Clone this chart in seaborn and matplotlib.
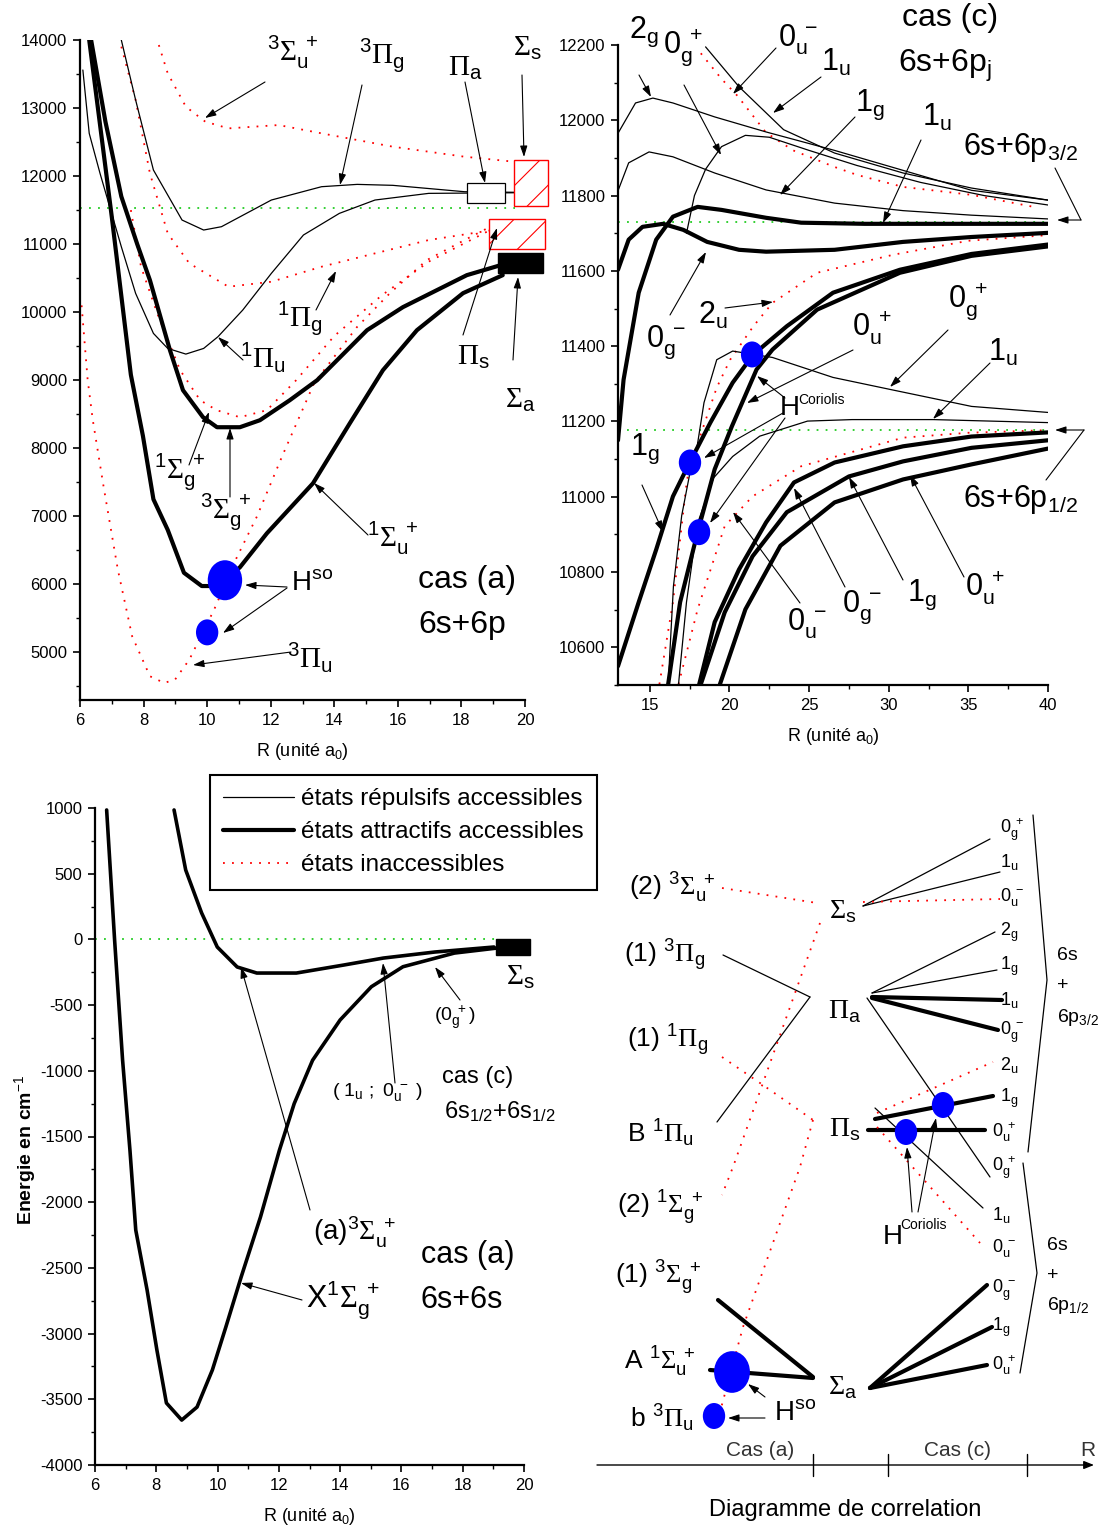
import matplotlib
matplotlib.use("Agg")
import matplotlib.pyplot as plt
import seaborn as sns
from matplotlib.lines import Line2D
from matplotlib.patches import Rectangle
from matplotlib.path import Path
from matplotlib.ticker import MultipleLocator
from matplotlib.transforms import Affine2D

# ---------------- data (R in a0, E in cm-1) ----------------
# cas (a) 6s+6p
R_A1Su = [6.29, 7.0, 7.6, 7.98, 8.31, 8.76, 9.27, 9.83, 10.3, 10.6, 11.03, 11.88, 13.33, 14.49, 15.53, 16.6, 18.05, 19.3]
E_A1Su = [14000, 11400, 9080, 8180, 7250, 6800, 6170, 5975, 5975, 6080, 6250, 6750, 7485, 8368, 9147, 9735, 10279, 10544]
R_3Sg = [6.35, 6.8, 7.3, 7.8, 8.2, 8.83, 9.24, 9.87, 10.31, 11.03, 11.66, 12.6, 13.46, 15.03, 16.16, 18.17, 19.3]
E_3Sg = [14000, 12800, 11700, 11000, 10470, 9441, 8853, 8456, 8309, 8309, 8412, 8706, 9000, 9735, 10074, 10544, 10700]
R_1Pu = [6.09, 6.29, 6.63, 7.3, 7.75, 8.31, 8.76, 9.33, 9.89, 10.34, 11.12, 12.02, 13.03, 14.16, 15.28, 16.97, 20.0]
E_1Pu = [13559, 12628, 12040, 10962, 10276, 9688, 9467, 9384, 9467, 9639, 10031, 10570, 11134, 11452, 11648, 11746, 11756]
R_3Pg = [7.3, 7.75, 8.31, 9.21, 9.89, 10.45, 12.02, 13.6, 14.72, 15.84, 18.1, 20.0]
E_3Pg = [14000, 13118, 12089, 11354, 11207, 11256, 11648, 11844, 11878, 11864, 11770, 11760]
R_3Su = [8.48, 8.76, 9.33, 9.94, 10.67, 12.25, 13.6, 15.84, 18.09, 19.66]
E_3Su = [13926, 13510, 13020, 12800, 12701, 12750, 12628, 12432, 12285, 12211]
R_1Pg = [7.3, 7.75, 8.2, 8.76, 9.44, 10.67, 12.02, 13.6, 15.28, 16.97, 18.99]
E_1Pg = [13902, 13118, 12040, 11158, 10717, 10374, 10447, 10668, 10864, 11060, 11207]
R_1Sg = [7.6, 7.92, 8.43, 9.15, 9.78, 10.3, 11.03, 11.88, 12.8, 14.0, 15.5, 17.0, 19.0]
E_1Sg = [11500, 10668, 9982, 9147, 8706, 8559, 8456, 8559, 9000, 9650, 10250, 10750, 11230]
R_3Pu = [6.05, 6.24, 6.4, 6.74, 7.19, 7.64, 8.2, 8.65, 8.99, 9.44, 10.22, 10.9, 11.57, 12.36, 13.37, 14.71, 15.75, 16.91, 18.1, 19.3]
E_3Pu = [10100, 9010, 8422, 7442, 6217, 5237, 4649, 4551, 4600, 4894, 5629, 6364, 7001, 7883, 8961, 9779, 10279, 10765, 11060, 11350]
E_lim_a = 11535
R_hso_a = [10.56, 10.0]
E_hso_a = [6060, 5294]
S_hso_a = [830, 350]

# cas (c) 6s+6pj
R_t2g = [13.02, 14.1, 15.19, 16.45, 19.07, 22.3, 26.6, 30.9, 35.2, 40]
E_t2g = [11967, 12046, 12059, 12046, 12009, 11969, 11920, 11867, 11814, 11788]
R_t1g = [13.02, 13.67, 14.95, 16.45, 19.07, 22.3, 26.6, 30.9, 35.2, 40]
E_t1g = [11815, 11887, 11916, 11903, 11860, 11815, 11780, 11760, 11748, 11738]
R_t1u = [18.5, 20.6, 23.4, 26.6, 30.9, 35.2, 40]
E_t1u = [12195, 12089, 11975, 11913, 11860, 11820, 11788]
R_t0gp = [17.3, 17.8, 18.5, 19.5, 21.0, 22.5, 25, 28, 32, 36, 40]
E_t0gp = [11700, 11800, 11870, 11930, 11960, 11955, 11920, 11880, 11835, 11800, 11775]
R_t1u_m = [16.15, 16.48, 17.0, 17.5, 17.94, 18.4, 19.2, 20.2, 22.7, 26.5, 30.1, 35.2, 40]
E_t1u_m = [10502, 10762, 10950, 11060, 11126, 11250, 11364, 11387, 11370, 11317, 11285, 11240, 11224]
R_t1u_l = [16.8, 17.3, 18.0, 19.0, 20.2, 21.9, 24.9, 27.7, 32.8, 40]
E_t1u_l = [10502, 10720, 10930, 11050, 11107, 11161, 11201, 11205, 11205, 11197]
R_k1u = [13.0, 13.35, 14.3, 15.4, 16.45, 18.0, 19.5, 22.3, 24.5, 28.5, 40]
E_k1u = [11150, 11311, 11542, 11683, 11744, 11770, 11762, 11741, 11728, 11725, 11725]
R_k0gm = [13.0, 13.67, 14.54, 15.83, 17.1, 18.6, 20.6, 22.3, 26.6, 30.9, 35.2, 40]
E_k0gm = [11603, 11683, 11717, 11725, 11709, 11677, 11656, 11651, 11656, 11677, 11690, 11701]
R_k1g = [13.0, 14.3, 15.4, 16.45, 17.5, 18.8, 20.2, 21.5, 23.6, 26.5, 30.7, 35.2, 40]
E_k1g = [10550, 10720, 10860, 11001, 11091, 11197, 11303, 11378, 11453, 11542, 11603, 11645, 11670]
R_k0up = [16.15, 16.9, 18.0, 19.07, 20.15, 21.7, 22.7, 25.5, 30.7, 35.2, 40]
E_k0up = [10502, 10720, 10906, 11073, 11187, 11338, 11391, 11497, 11595, 11640, 11665]
R_kb1 = [18.1, 19.07, 20.6, 22.3, 24.05, 26.6, 30.9, 35.2, 40]
E_kb1 = [10502, 10667, 10807, 10932, 11038, 11091, 11134, 11160, 11171]
R_kb2 = [18.2, 19.7, 21.45, 23.6, 27.5, 30.9, 35.2, 40]
E_kb2 = [10502, 10693, 10842, 10959, 11054, 11094, 11130, 11150]
R_kb3 = [19.4, 21.0, 23.2, 26.6, 30.9, 35.2, 40]
E_kb3 = [10502, 10701, 10870, 10985, 11046, 11086, 11128]
R_r0um = [18.2, 19.5, 20.5, 22.3, 24, 26.6, 28, 30.9, 35.2, 39.1]
E_r0um = [12178, 12110, 12065, 11967, 11920, 11876, 11855, 11823, 11802, 11770]
R_r2u = [15.6, 16.45, 17.33, 18.15, 19.2, 20.04, 21.5, 22.7, 25.5, 30.3, 35, 40]
E_r2u = [10502, 10720, 11046, 11160, 11290, 11364, 11453, 11515, 11595, 11643, 11680, 11695]
R_r0um_l = [16.8, 18.0, 19.7, 21.45, 24.5, 30.9, 35, 40]
E_r0um_l = [10502, 10701, 10922, 11001, 11081, 11157, 11170, 11177]
E_lim_c = [11730, 11177]
R_cor = [21.42, 17.52, 18.09]
E_cor = [11378, 11091, 10906]

# 6s+6s
R_X = [6.38, 6.64, 6.9, 7.14, 7.33, 7.7, 8.02, 8.33, 8.83, 9.33, 9.83, 10.27, 10.77, 11.4, 12.02, 12.5, 13.1, 14.0, 15.02, 16.05, 17.73, 19.15]
E_X = [985, -5, -918, -1603, -2212, -2668, -3125, -3528, -3658, -3559, -3277, -2950, -2569, -2113, -1603, -1250, -920, -613, -360, -208, -104, -65]
R_a3Su = [8.58, 8.96, 9.48, 9.99, 10.64, 11.28, 12.57, 14.12, 15.41, 17.09, 19.02]
E_a3Su = [985, 528, 201, -58, -210, -256, -256, -195, -142, -96, -58]

legend_labels = ["états répulsifs accessibles", "états attractifs accessibles", "états inaccessibles"]

# correlation diagram labels
corr_left = [r"(2) $^3\mathsf{\Sigma}_u^{\ +}$", r"(1) $^3\mathsf{\Pi}_g$", r"(1) $^1\mathsf{\Pi}_g$",
             r"B $^1\mathsf{\Pi}_u$", r"(2) $^1\mathsf{\Sigma}_g^{\ +}$", r"(1) $^3\mathsf{\Sigma}_g^{\ +}$",
             r"A $^1\mathsf{\Sigma}_u^{\ +}$", r"b $^3\mathsf{\Pi}_u$"]
corr_mid = [r"$\mathsf{\Sigma}_s$", r"$\mathsf{\Pi}_a$", r"$\mathsf{\Pi}_s$", r"$\mathsf{\Sigma}_a$"]
corr_right_32 = [r"$0_g^{\ +}$", r"$1_u$", r"$0_u^{\ -}$", r"$2_g$", r"$1_g$", r"$1_u$", r"$0_g^{\ -}$", r"$2_u$", r"$1_g$"]
corr_right_12 = [r"$0_u^{\ +}$", r"$0_g^{\ +}$", r"$1_u$", r"$0_u^{\ -}$", r"$0_g^{\ -}$", r"$1_g$", r"$0_u^{\ +}$"]

# ---------------- style ----------------
sns.set_theme(style="ticks", rc={"axes.edgecolor": "black", "xtick.color": "black", "ytick.color": "black",
                                 "text.color": "black", "axes.labelcolor": "black", "axes.linewidth": 1.6})
plt.rcParams["font.family"] = ["Liberation Sans", "DejaVu Sans"]
plt.rcParams["mathtext.fontset"] = "custom"
plt.rcParams["mathtext.rm"] = "Liberation Sans"
plt.rcParams["mathtext.it"] = "Liberation Sans"
plt.rcParams["mathtext.bf"] = "Liberation Sans:bold"
plt.rcParams["mathtext.sf"] = "Liberation Serif"
plt.rcParams["axes.unicode_minus"] = False
plt.rcParams["hatch.linewidth"] = 0.8

THIN = dict(color="black", lw=0.9)
THICK = dict(color="black", lw=3.0)
DOT = dict(color="red", lw=1.3, linestyle=(0, (1, 4)))
GREEN = dict(color="#22cc22", lw=1.3, linestyle=(0, (1, 4)))
BLOB = Path.unit_circle().transformed(Affine2D().scale(0.86, 1.0))

W, H = 1099, 1537
fig = plt.figure(figsize=(W / 100, H / 100), dpi=100)


def place(l, t, r, b):
    return fig.add_axes([l / W, 1 - b / H, (r - l) / W, (b - t) / H])


def curve(ax, r, e, style):
    sns.lineplot(x=r, y=e, ax=ax, sort=False, estimator=None, **style)


def blobs(ax, x, y, s):
    sns.scatterplot(x=x, y=y, ax=ax, marker=BLOB, s=s, color="#0000ff", linewidth=0, zorder=6)


def frame(ax, xlim, ylim, xmaj, xmin, ymaj, ymin):
    ax.set_xlim(*xlim)
    ax.set_ylim(*ylim)
    ax.xaxis.set_major_locator(MultipleLocator(xmaj))
    ax.xaxis.set_minor_locator(MultipleLocator(xmin))
    ax.yaxis.set_major_locator(MultipleLocator(ymaj))
    ax.yaxis.set_minor_locator(MultipleLocator(ymin))
    ax.tick_params(which="major", direction="out", length=5, width=1.2, labelsize=12, pad=4)
    ax.tick_params(which="minor", direction="out", length=3, width=1.0)
    sns.despine(ax=ax)
    ax.set_xlabel(r"R (unité a$_0$)", fontsize=13, labelpad=10)
    ax.set_ylabel("")


ax1 = place(80, 40, 525, 700)
ax2 = place(618, 45, 1048, 685)
ax3 = place(95, 808, 524, 1465)

# ---- cas (a) 6s+6p ----
curve(ax1, [6, 19.7], [E_lim_a] * 2, GREEN)
for r, e in [(R_3Su, E_3Su), (R_1Pg, E_1Pg), (R_1Sg, E_1Sg), (R_3Pu, E_3Pu)]:
    curve(ax1, r, e, DOT)
for r, e in [(R_1Pu, E_1Pu), (R_3Pg, E_3Pg)]:
    curve(ax1, r, e, THIN)
for r, e in [(R_A1Su, E_A1Su), (R_3Sg, E_3Sg)]:
    curve(ax1, r, e, THICK)
frame(ax1, (6, 20), (4300, 14000), 2, 1, 1000, 500)
ax1.add_patch(Rectangle((18.17, 11603), 1.2, 294, fc="white", ec="black", lw=0.9, zorder=5, clip_on=False))
ax1.add_patch(Rectangle((19.65, 11559), 1.07, 676, fc="white", ec="red", hatch="/", lw=1.0, zorder=5, clip_on=False))
ax1.add_patch(Rectangle((18.87, 10926), 1.76, 442, fc="white", ec="red", hatch="/", lw=1.0, zorder=5, clip_on=False))
ax1.add_patch(Rectangle((19.15, 10574), 1.41, 294, fc="black", ec="black", zorder=5, clip_on=False))
blobs(ax1, R_hso_a, E_hso_a, S_hso_a)

# ---- cas (c) 6s+6pj ----
for e in E_lim_c:
    curve(ax2, [13, 40], [e, e], GREEN)
for r, e in [(R_r0um, E_r0um), (R_r2u, E_r2u), (R_r0um_l, E_r0um_l)]:
    curve(ax2, r, e, DOT)
for r, e in [(R_t2g, E_t2g), (R_t1g, E_t1g), (R_t1u, E_t1u), (R_t0gp, E_t0gp), (R_t1u_m, E_t1u_m), (R_t1u_l, E_t1u_l)]:
    curve(ax2, r, e, THIN)
for r, e in [(R_k1u, E_k1u), (R_k0gm, E_k0gm), (R_k1g, E_k1g), (R_k0up, E_k0up),
             (R_kb1, E_kb1), (R_kb2, E_kb2), (R_kb3, E_kb3)]:
    curve(ax2, r, e, THICK)
frame(ax2, (13, 40), (10500, 12200), 5, 2.5, 200, 100)
blobs(ax2, R_cor, E_cor, [350] * 3)

# ---- 6s+6s ----
curve(ax3, [6, 19.1], [0, 0], GREEN)
curve(ax3, R_X, E_X, dict(color="black", lw=2.6))
curve(ax3, R_a3Su, E_a3Su, dict(color="black", lw=2.6))
frame(ax3, (6, 20), (-4000, 1000), 2, 1, 500, 250)
ax3.add_patch(Rectangle((19.09, -119), 1.1, 124, fc="black", ec="black", zorder=5, clip_on=False))

fig.legend([Line2D([], [], **THIN), Line2D([], [], **THICK), Line2D([], [], **DOT)], legend_labels,
           loc="upper left", bbox_to_anchor=(210 / W, 1 - 775 / H), fontsize=17.5, frameon=True,
           fancybox=False, edgecolor="black", framealpha=1, handlelength=2.9, handletextpad=0.3,
           borderpad=0.55, labelspacing=0.45, borderaxespad=0).get_frame().set_linewidth(1.5)

# ---------------- overlay in figure pixels: labels, arrows, correlation diagram ----------------
ov = fig.add_axes([0, 0, 1, 1], zorder=10)
ov.set_xlim(0, W)
ov.set_ylim(H, 0)
ov.axis("off")


def txt(x, y, s, size=21, ha="center", **kw):
    ov.text(x, y, s, fontsize=size, ha=ha, va="center", **kw)


def arr(x0, y0, x1, y1):
    ov.annotate("", xy=(x1, y1), xytext=(x0, y0),
                arrowprops=dict(arrowstyle="-|>,head_length=0.55,head_width=0.18", color="black",
                                lw=0.8, shrinkA=0, shrinkB=0))


def seg(pts, style):
    ov.plot([p[0] for p in pts], [p[1] for p in pts], **style)


# panel (a) labels
for x, y, s in [(293, 52, r"$^3\mathsf{\Sigma}_u^{\ +}$"), (382, 55, r"$^3\mathsf{\Pi}_g$"),
                (465, 68, r"$\mathsf{\Pi}_a$"), (527, 48, r"$\mathsf{\Sigma}_s$"),
                (300, 318, r"$^1\mathsf{\Pi}_g$"), (263, 357, r"$^1\mathsf{\Pi}_u$"),
                (473, 357, r"$\mathsf{\Pi}_s$"), (520, 400, r"$\mathsf{\Sigma}_a$"),
                (180, 472, r"$^1\mathsf{\Sigma}_g^{\ +}$"), (226, 512, r"$^3\mathsf{\Sigma}_g^{\ +}$"),
                (393, 538, r"$^1\mathsf{\Sigma}_u^{\ +}$"), (310, 657, r"$^3\mathsf{\Pi}_u$")]:
    txt(x, y, s)
txt(312, 583, r"H$^{so}$", 20)
txt(467, 580, "cas (a)", 23)
txt(462, 625, "6s+6p", 23)
for a in [(265, 82, 205, 118), (362, 85, 340, 185), (465, 82, 485, 183), (522, 75, 524, 157),
          (316, 310, 336, 271), (243, 360, 218, 337), (463, 335, 497, 228), (513, 360, 518, 277),
          (189, 465, 209, 412), (230, 497, 230, 428), (368, 535, 314, 483),
          (287, 587, 245, 585), (287, 588, 223, 633), (291, 652, 193, 665)]:
    arr(*a)

# panel (c) labels
for x, y, s in [(644, 32, r"$2_g$"), (683, 48, r"$0_g^{\ +}$"), (798, 40, r"$0_u^{\ -}$"),
                (836, 62, r"$1_u$"), (870, 105, r"$1_g$"), (937, 117, r"$1_u$"),
                (666, 342, r"$0_g^{\ -}$"), (713, 315, r"$2_u$"), (872, 327, r"$0_u^{\ +}$"),
                (968, 302, r"$0_g^{\ +}$"), (1003, 352, r"$1_u$"), (645, 449, r"$1_g$"),
                (807, 624, r"$0_u^{\ -}$"), (862, 607, r"$0_g^{\ -}$"), (922, 595, r"$1_g$"),
                (985, 587, r"$0_u^{\ +}$")]:
    txt(x, y, s, 22)
txt(950, 18, "cas (c)", 23)
txt(945, 66, r"6s+6p$_j$", 23)
txt(1020, 148, r"6s+6p$_{3/2}$", 22)
txt(1020, 500, r"6s+6p$_{1/2}$", 22)
txt(790, 408, "H", 20)
txt(798, 400, "Coriolis", 10, ha="left")
for a in [(639, 75, 651, 97), (684, 85, 721, 155), (776, 48, 733, 94), (821, 77, 773, 113),
          (855, 117, 780, 195), (921, 140, 883, 223), (670, 315, 706, 252), (725, 308, 773, 302),
          (853, 350, 747, 403), (948, 330, 890, 387), (990, 363, 933, 419),
          (785, 398, 757, 376), (783, 413, 704, 458), (785, 418, 710, 523),
          (642, 485, 663, 532), (800, 603, 733, 512), (845, 587, 794, 488), (903, 580, 849, 477),
          (964, 577, 910, 475)]:
    arr(*a)
seg([(1055, 168), (1081, 220)], dict(color="black", lw=0.8))
arr(1081, 220, 1057, 220)
seg([(1046, 480), (1084, 430)], dict(color="black", lw=0.8))
arr(1084, 430, 1055, 430)

# panel 6s+6s labels
txt(520, 977, r"$\mathsf{\Sigma}_s$", 21)
txt(455, 1017, r"$(0_g^{\ +})$", 14)
txt(478, 1077, "cas (c)", 17)
txt(500, 1112, r"6s$_{1/2}$+6s$_{1/2}$", 17)
txt(378, 1092, r"$(\ 1_u\ ;\ 0_u^{\ -}\ )$", 14)
txt(355, 1232, r"(a)$^3\mathsf{\Sigma}_u^{\ +}$", 20)
txt(468, 1255, "cas (a)", 22)
txt(462, 1300, "6s+6s", 22)
txt(343, 1300, r"X$^1\mathsf{\Sigma}_g^{\ +}$", 22)
txt(25, 1150, r"Energie en cm$^{-1}$", 14, rotation=90, fontweight="bold")
for a in [(460, 1000, 435, 967), (395, 1083, 383, 963), (310, 1210, 241, 967), (302, 1300, 241, 1283)]:
    arr(*a)

# correlation diagram
for (x, y), s in zip([(672, 888), (665, 955), (668, 1040), (660, 1133), (660, 1208), (658, 1278),
                      (660, 1362), (662, 1418)], corr_left):
    txt(x, y, s, 19)
for (x, y), s in zip([(843, 912), (845, 1012), (845, 1130), (843, 1388)], corr_mid):
    txt(x, y, s, 20)
for y, s in zip([830, 862, 897, 932, 966, 1000, 1032, 1065, 1098], corr_right_32):
    txt(1000, y, s, 13, ha="left")
for y, s in zip([1132, 1168, 1215, 1248, 1290, 1327, 1365], corr_right_12):
    txt(992, y, s, 13, ha="left")
for y, s in [(955, "6s"), (985, "+"), (1018, r"6p$_{3/2}$")]:
    txt(1057, y, s, 14, ha="left")
for y, s in [(1245, "6s"), (1275, "+"), (1305, r"6p$_{1/2}$")]:
    txt(1047, y, s, 14, ha="left")
seg([(1033, 815), (1047, 980), (1028, 1152)], dict(color="black", lw=0.9))
seg([(1023, 1163), (1037, 1273), (1020, 1373)], dict(color="black", lw=0.9))

for pts in [[(723, 955), (810, 997)], [(717, 1122), (810, 997)], [(863, 906), (990, 839)],
            [(863, 906), (1000, 872)], [(872, 993), (995, 932)], [(872, 993), (997, 970)],
            [(867, 998), (990, 1177)], [(875, 1108), (983, 1208)]]:
    seg(pts, THIN)
for pts in [[(872, 997), (1002, 1000)], [(872, 998), (998, 1030)], [(868, 1130), (985, 1130)],
            [(875, 1119), (993, 1096)], [(718, 1300), (813, 1377)], [(710, 1370), (813, 1378)],
            [(870, 1388), (987, 1285)], [(870, 1388), (992, 1327)], [(870, 1388), (987, 1365)]]:
    seg(pts, THICK)
for pts in [[(722, 888), (817, 903)], [(863, 902), (1000, 899)], [(722, 1057), (760, 1083), (813, 1120)],
            [(813, 1120), (800, 1167), (743, 1327), (717, 1423)], [(820, 923), (733, 1167), (722, 1195)],
            [(877, 1113), (993, 1062)], [(877, 1127), (980, 1243)]]:
    seg(pts, DOT)
blobs(ov, [732, 714, 906, 943], [1372, 1416, 1132, 1105], [900, 350, 350, 350])
arr(765, 1397, 748, 1384)
arr(765, 1418, 728, 1418)
txt(795, 1413, r"H$^{so}$", 20)
arr(912, 1212, 907, 1147)
arr(918, 1212, 936, 1118)
txt(893, 1237, "H", 20)
txt(900, 1225, "Coriolis", 10, ha="left")

ov.annotate("", xy=(1094, 1465), xytext=(597, 1465),
            arrowprops=dict(arrowstyle="-|>,head_length=0.5,head_width=0.2", color="black", lw=1.0,
                            shrinkA=0, shrinkB=0))
for x in [813, 888, 1027]:
    seg([(x, 1454), (x, 1476)], dict(color="black", lw=1.0))
txt(760, 1450, "Cas (a)", 15, color="#333333")
txt(958, 1450, "Cas (c)", 15, color="#333333")
txt(1080, 1450, "R", 15, ha="left", color="#333333")
txt(845, 1510, "Diagramme de correlation", 17)

fig.savefig("out.png", dpi=100)
